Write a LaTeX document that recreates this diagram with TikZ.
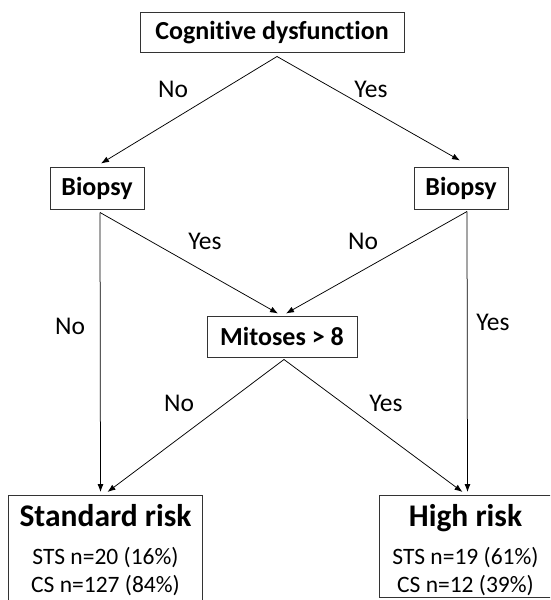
\documentclass[tikz,border=0pt]{standalone}
\usepackage{fontspec}
\setmainfont{Carlito}[Ligatures=NoCommon]
\usepackage{tikz}
\usetikzlibrary{%
  arrows.meta%
}
\tikzset{
  box/.style={draw=black!80, line width=1pt, inner sep=0pt,
    font=\fontsize{26}{30}\selectfont\bfseries},
  riskbox/.style={draw=black!80, line width=1pt, align=center, anchor=north west,
    inner xsep=0pt, inner ysep=9pt, text depth=30pt, font=\fontsize{23.5}{28}\selectfont},
  lbl/.style={inner sep=0pt, font=\fontsize{25.5}{28}\selectfont}
}

\begin{document}
\begin{tikzpicture}[x=1pt, y=-1pt, >={Latex[length=8pt,width=6pt]}, line width=0.75pt]
\useasboundingbox (0,0) rectangle (550,600);
\clip (0,0) rectangle (550,600);
\node[box, minimum width=264pt, minimum height=40pt] (cog) at (272,32.5) {Cognitive dysfunction\hspace{5pt}};
\node[box, minimum width=94pt, minimum height=42pt] (bioL) at (97,188) {Biopsy};
\node[box, minimum width=94pt, minimum height=42pt] (bioR) at (461,188) {Biopsy};
\node[box, minimum width=150pt, minimum height=41pt] (mit) at (282,336.5) {Mitoses > 8};
\node[riskbox, minimum width=194pt] (std) at (8,495)
  {{\fontsize{31.5}{31.5}\selectfont\bfseries Standard risk}\\[10pt] STS n=20 (16\%)\\ CS n=127 (84\%)};
\node[riskbox, minimum width=200pt] (high) at (379,495)
  {\begin{tabular}{@{}c@{}}{\fontsize{31.5}{31.5}\selectfont\bfseries High risk}\\[10pt] STS n=19 (61\%)\\ CS n=12 (39\%)\end{tabular}\hspace{28pt}};

% branch labels
\node[lbl] (no1) at (173,89) {No};
\node[lbl] (yes1) at (371,89) {Yes};
\node[lbl] (yes2) at (205,241) {Yes};
\node[lbl] (no2) at (363,241) {No};
\node[lbl] (no3) at (70,326) {No};
\node[lbl] (yes3) at (493,322) {Yes};
\node[lbl] (no4) at (179,403) {No};
\node[lbl] (yes4) at (386,403) {Yes};

\coordinate (cogout) at ([shift={(5,3.5)}]cog.south);
\coordinate (bioLout) at ([shift={(3,3)}]bioL.south);
\coordinate (bioRout) at ([shift={(6,2)}]bioR.south);
\coordinate (mitout) at ([shift={(2,2)}]mit.south);

\draw
	(cogout) edge[->] ([shift={(4,-3)}]bioL.north)
	(cogout) edge[->] ([shift={(-1,-6)}]bioR.north)
	(bioLout) edge[->] ([shift={(-4,-2)}]mit.north)
	(bioRout) edge[->] ([shift={(4,-2)}]mit.north)
	(bioLout) edge[->] ([shift={(-5,-3)}]std.north)
	(bioRout) edge[->] ([shift={(-12,-3)}]high.north)
	(mitout) edge[->] ([shift={(2,-3)}]std.north)
	(mitout) edge[->] ([shift={(-17,-3)}]high.north)
;
\end{tikzpicture}
\end{document}
